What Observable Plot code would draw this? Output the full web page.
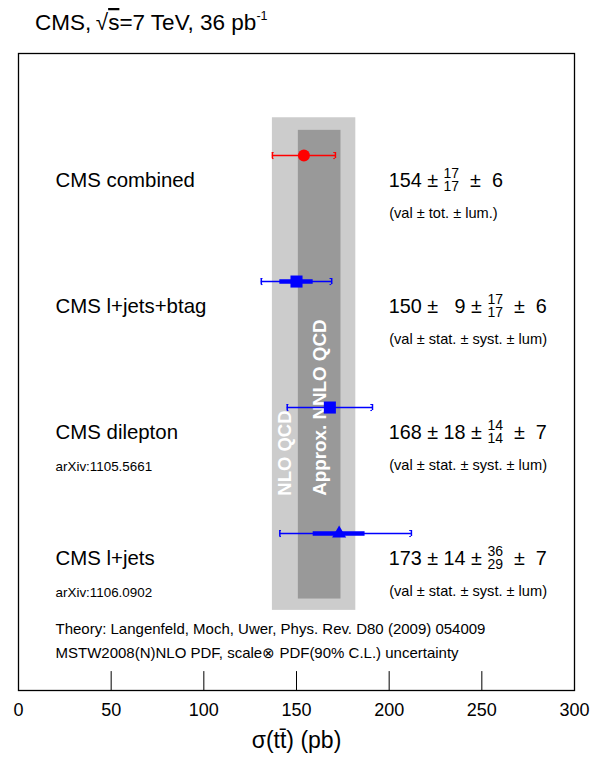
<!DOCTYPE html>
<html><head><meta charset="utf-8">
<script src="https://cdn.jsdelivr.net/npm/d3@7"></script>
<script src="https://cdn.jsdelivr.net/npm/@observablehq/plot@0.6"></script>
<style>body{margin:0;background:#fff}</style>
</head><body><div id="chart"></div>
<script>
// ---- data ----
const names = ["CMS combined", "CMS l+jets+btag", "CMS dilepton", "CMS l+jets"];
const refs = ["", "", "arXiv:1105.5661", "arXiv:1106.0902"];
const values = [154, 150, 168, 173];
const stat = [null, 9, 18, 14];
const statBar = [0, 9, 0, 14];
const systUp = [17, 17, 14, 36];
const systDn = [17, 17, 14, 29];
const lumi = [6, 6, 7, 7];
const totLo = [137, 131, 145, 141];
const totHi = [171, 169, 191, 212];
const colors = ["#ff0000", "#0000ff", "#0000ff", "#0000ff"];
const symbols = ["circle", "square", "square", "triangle"];
const sizes = [6, 6.8, 6.8, 5.2];
const notes = ["(val \u00B1 tot. \u00B1 lum.)", "(val \u00B1 stat. \u00B1 syst. \u00B1 lum)",
  "(val \u00B1 stat. \u00B1 syst. \u00B1 lum)", "(val \u00B1 stat. \u00B1 syst. \u00B1 lum)"];
const theoryNames = ["NLO QCD", "Approx. NNLO QCD"];
const theoryLo = [137, 151];
const theoryHi = [182, 174];
const theoryText = ["Theory: Langenfeld, Moch, Uwer, Phys. Rev. D80 (2009) 054009",
  "MSTW2008(N)NLO PDF, scale\u2297 PDF(90% C.L.) uncertainty"];
const xTicks = [0, 50, 100, 150, 200, 250, 300];
const innerTicks = [50, 100, 150, 200, 250];
const labelX = 20, valueX = 200;

const rows = names.map((n, i) => ({i, name: n, ref: refs[i], v: values[i], stat: stat[i], sb: statBar[i],
  lo: totLo[i], hi: totHi[i], color: colors[i], symbol: symbols[i], r: sizes[i], note: notes[i]}));
const bands = theoryNames.map((n, i) => ({name: n, lo: theoryLo[i], hi: theoryHi[i]}));

const FONT = '"Liberation Sans", Arial, Helvetica, sans-serif';
const yTop = -0.81, yBot = 4.246;
const capH = 0.024, capW = 0.9;

const plot = Plot.plot({
  width: 602, height: 760,
  marginLeft: 18, marginRight: 28, marginTop: 53, marginBottom: 70,
  style: {fontFamily: FONT, background: "white", overflow: "visible", color: "black"},
  x: {domain: [0, 300], axis: null},
  y: {domain: [yTop, yBot], reverse: true, axis: null},
  color: {type: "identity"},
  symbol: {type: "identity"},
  r: {type: "identity"},
  marks: [
    Plot.rect(bands.slice(0,1), {x1: "lo", x2: "hi", y1: () => -0.3, y2: () => 3.61, fill: "#cccccc"}),
    Plot.rect(bands.slice(1), {x1: "lo", x2: "hi", y1: () => -0.2, y2: () => 3.52, fill: "#999999"}),
    Plot.text(bands.slice(0,1), {x: d => (d.lo + 151) / 2, y: () => 2.7, text: "name", rotate: -90,
      textAnchor: "start", lineAnchor: "middle", fill: "white", fontWeight: "bold", fontSize: 18.5}),
    Plot.text(bands.slice(1), {x: d => (d.lo + d.hi) / 2, y: () => 2.7, text: "name", rotate: -90,
      textAnchor: "start", lineAnchor: "middle", fill: "white", fontWeight: "bold", fontSize: 18.8}),
    Plot.ruleY(rows, {y: "i", x1: "lo", x2: "hi", stroke: "color", strokeWidth: 1.5}),
    // bracket-shaped caps
    Plot.ruleX(rows, {x: "lo", y1: d => d.i - capH, y2: d => d.i + capH, stroke: "color", strokeWidth: 1.5}),
    Plot.ruleX(rows, {x: "hi", y1: d => d.i - capH, y2: d => d.i + capH, stroke: "color", strokeWidth: 1.5}),
    Plot.ruleY(rows, {y: d => d.i - capH, x1: "lo", x2: d => d.lo + capW, stroke: "color", strokeWidth: 1}),
    Plot.ruleY(rows, {y: d => d.i + capH, x1: "lo", x2: d => d.lo + capW, stroke: "color", strokeWidth: 1}),
    Plot.ruleY(rows, {y: d => d.i - capH, x1: d => d.hi - capW, x2: "hi", stroke: "color", strokeWidth: 1}),
    Plot.ruleY(rows, {y: d => d.i + capH, x1: d => d.hi - capW, x2: "hi", stroke: "color", strokeWidth: 1}),
    Plot.ruleY(rows.filter(d => d.sb), {y: "i", x1: d => d.v - d.sb, x2: d => d.v + d.sb, stroke: "color", strokeWidth: 4.5}),
    Plot.dot(rows, {x: "v", y: "i", symbol: "symbol", fill: "color", r: "r", stroke: null}),
    Plot.text(rows, {x: () => labelX, y: "i", text: "name", dy: 25, textAnchor: "start", fontSize: 20.4}),
    Plot.text(rows.filter(d => d.ref), {x: () => labelX, y: "i", text: "ref", dy: 59, textAnchor: "start", fontSize: 13.4}),
    Plot.text(rows, {x: () => valueX, y: "i", text: "note", dy: 58, textAnchor: "start", fontSize: 14.6}),
    Plot.text(theoryText.slice(0,1), {frameAnchor: "bottom-left", dx: 37, dy: -57, text: d => d, textAnchor: "start", fontSize: 15}),
    Plot.text(theoryText.slice(1), {frameAnchor: "bottom-left", dx: 37, dy: -33, text: d => d, textAnchor: "start", fontSize: 15}),
    Plot.ruleX(innerTicks, {x: d => d, y1: () => yBot, y2: () => yBot - 0.15, stroke: "black", strokeWidth: 1}),
    Plot.axisX(xTicks, {anchor: "bottom", tickSize: 0, tickPadding: 13, fontSize: 18, label: null}),
    Plot.text(["\u03C3(t\u0074\u0304) (pb)"], {frameAnchor: "bottom", dy: 57, text: d => d, fontSize: 23}),
    Plot.frame({stroke: "black", strokeWidth: 1.3})
  ]
});
document.getElementById("chart").appendChild(plot);

// ---- composite texts (title, values with stacked sup/sub) ----
const sx = plot.scale("x"), sy = plot.scale("y");
const X = d3.scaleLinear(sx.domain, sx.range);
const Y = d3.scaleLinear(sy.domain, sy.range);
const svg = d3.select(plot);
const g = svg.append("g").attr("font-family", FONT).attr("fill", "black").attr("text-anchor", "start");

function compose(x0, base, parts, size, small, supDy, subDy) {
  const t = g.append("text").style("white-space", "pre").attr("font-size", size).attr("text-anchor", "start");
  let cur = x0;
  for (const p of parts) {
    if (typeof p === "string") {
      const s = t.append("tspan").attr("x", cur).attr("y", base).text(p);
      cur += s.node().getComputedTextLength();
    } else if (p.sup !== undefined && p.sub !== undefined) {
      const a = t.append("tspan").attr("x", cur).attr("y", base + supDy).attr("font-size", small).text(p.sup);
      const b = t.append("tspan").attr("x", cur).attr("y", base + subDy).attr("font-size", small).text(p.sub);
      cur += Math.max(a.node().getComputedTextLength(), b.node().getComputedTextLength());
    } else if (p.sup !== undefined) {
      const a = t.append("tspan").attr("x", cur).attr("y", base + supDy).attr("font-size", small).text(p.sup);
      cur += a.node().getComputedTextLength();
    } else if (p.over !== undefined) {
      const a = t.append("tspan").attr("x", cur).attr("y", base).style("text-decoration", "overline").text(p.over);
      cur += a.node().getComputedTextLength();
    }
  }
  return t;
}

rows.forEach((d, i) => {
  const parts = [`${d.v} \u00B1 `];
  if (d.stat != null) parts.push(`${String(d.stat).padStart(2, "\u2007")} \u00B1 `);
  parts.push({sup: String(systUp[i]), sub: String(systDn[i])});
  parts.push(`  \u00B1  ${lumi[i]}`);
  compose(X(valueX), Y(d.i) + 32, parts, 19.8, 14, -9, 4);
});

compose(35, 30, ["CMS,\u2009", "\u221A", {over: "s"}, "=7 TeV, 36 pb", {sup: "-1"}], 22.5, 12.5, -10, 0);
</script>
</body></html>
